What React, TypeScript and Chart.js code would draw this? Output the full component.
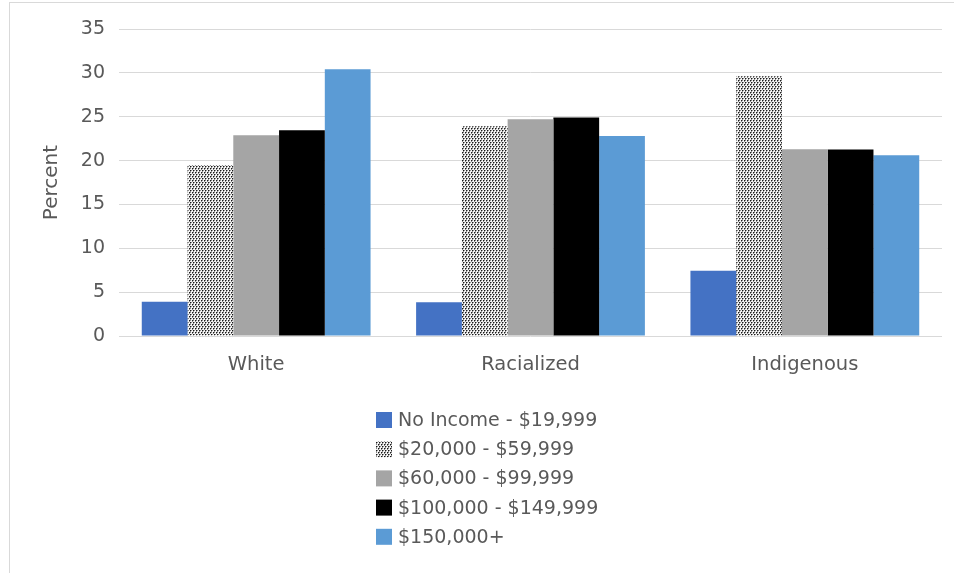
import React, { useEffect, useRef } from "react";
import { Chart, registerables } from "chart.js";

Chart.register(...registerables);

const categories = ["White", "Racialized", "Indigenous"];
const seriesNames = [
  "No Income - $19,999",
  "$20,000 - $59,999",
  "$60,000 - $99,999",
  "$100,000 - $149,999",
  "$150,000+",
];
const noIncome = [3.9, 3.85, 7.45];
const low = [19.5, 23.9, 29.6];
const mid = [22.9, 24.7, 21.3];
const high = [23.45, 24.9, 21.25];
const top = [30.4, 22.8, 20.6];
const yTicks = [0, 5, 10, 15, 20, 25, 30, 35];

const FONT = "'DejaVu Sans', sans-serif";
const TEXT = "#595959";

function makePattern(): CanvasPattern | string {
  const c = document.createElement("canvas");
  c.width = 3;
  c.height = 4;
  const x = c.getContext("2d");
  if (!x) return "#888";
  x.fillStyle = "#f4f4f4";
  x.fillRect(0, 0, 3, 4);
  x.fillStyle = "#1a1a1a";
  x.fillRect(0, 0, 1, 1);
  x.fillRect(1, 2, 1, 1);
  x.fillStyle = "#8a8a8a";
  x.fillRect(1, 0, 1, 1);
  x.fillRect(0, 1, 1, 1);
  x.fillRect(2, 2, 1, 1);
  x.fillRect(1, 3, 1, 1);
  const main = document.createElement("canvas").getContext("2d");
  return (main && main.createPattern(c, "repeat")) || "#888";
}

export default function App() {
  const ref = useRef<HTMLCanvasElement | null>(null);

  useEffect(() => {
    if (!ref.current) return;
    const pattern = makePattern();
    const colors: any[] = ["#4472C4", pattern, "#A5A5A5", "#000000", "#5B9BD5"];
    const values = [noIncome, low, mid, high, top];

    const legendPlugin = {
      id: "vLegend",
      afterDraw(chart: any) {
        const ctx = chart.ctx;
        const baseY = chart.chartArea.bottom;
        const left = 376;
        ctx.save();
        ctx.font = `19px ${FONT}`;
        ctx.textBaseline = "middle";
        ctx.textAlign = "left";
        chart.data.datasets.forEach((ds: any, i: number) => {
          const cy = baseY + 84 + i * 29.2;
          ctx.fillStyle = ds.backgroundColor;
          ctx.fillRect(left, cy - 8, 16, 16);
          ctx.fillStyle = TEXT;
          ctx.fillText(ds.label, left + 22, cy + 1);
        });
        ctx.restore();
      },
    };

    const chart = new Chart(ref.current, {
      type: "bar",
      data: {
        labels: categories,
        datasets: seriesNames.map((name, i) => ({
          label: name,
          data: values[i],
          backgroundColor: colors[i],
          borderWidth: 0,
          categoryPercentage: 0.834,
          barPercentage: 1,
        })),
      },
      options: {
        animation: false,
        responsive: false,
        layout: { padding: { left: 40, top: 29, right: 12, bottom: 0 } },
        plugins: {
          legend: { display: false },
          tooltip: { enabled: false },
        },
        scales: {
          x: {
            grid: { display: false, drawTicks: false },
            border: { display: false },
            ticks: { color: TEXT, font: { family: FONT, size: 19.5 }, padding: 17 },
            afterFit: (s: any) => {
              s.height = 237;
            },
          },
          y: {
            min: 0,
            max: 35,
            afterBuildTicks: (s: any) => {
              s.ticks = yTicks.map((v) => ({ value: v }));
            },
            grid: { color: "#d9d9d9", lineWidth: 1, drawTicks: false },
            border: { display: false },
            ticks: { color: TEXT, font: { family: FONT, size: 19 }, padding: 14 },
            title: {
              display: true,
              text: "Percent",
              color: TEXT,
              font: { family: FONT, size: 20 },
              padding: { top: 0, bottom: 0 },
            },
            afterFit: (s: any) => {
              s.width = 79;
            },
          },
        },
      },
      plugins: [legendPlugin],
    });
    return () => chart.destroy();
  }, []);

  return (
    <div style={{ position: "fixed", left: 0, top: 0, width: 954, height: 573, background: "#fff" }}>
      <div
        style={{
          position: "absolute",
          left: 9,
          top: 2,
          right: 0,
          bottom: 0,
          borderLeft: "1px solid #d9d9d9",
          borderTop: "1px solid #d9d9d9",
        }}
      />
      <canvas ref={ref} width={954} height={573} style={{ position: "absolute", left: 0, top: 0 }} />
    </div>
  );
}
